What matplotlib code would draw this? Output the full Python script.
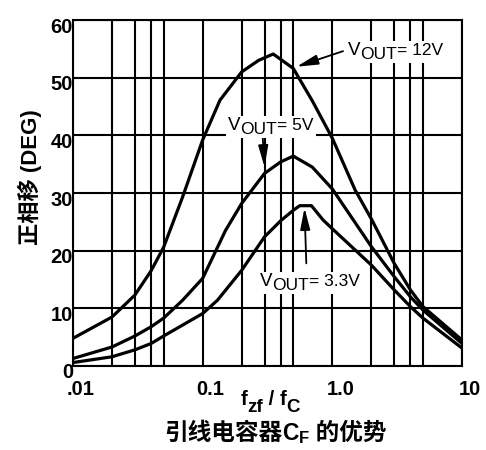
import matplotlib
matplotlib.use("Agg")
import matplotlib.pyplot as plt
from matplotlib.ticker import NullFormatter
from matplotlib.transforms import ScaledTranslation, offset_copy, Bbox, IdentityTransform
from matplotlib.patches import Rectangle

plt.rcParams["font.family"] = ["Liberation Sans", "Noto Sans CJK SC", "DejaVu Sans"]

# ratio f_zf / f_c and phase boost (deg)
freq_12v = [0.01, 0.02, 0.03, 0.04, 0.05, 0.07, 0.1, 0.136, 0.2, 0.27, 0.35,
            0.5, 0.7, 1.0, 1.5, 2, 3, 4, 5, 10]
phase_12v = [4.8, 8.5, 12.3, 16.5, 20.6, 29.3, 39.2, 46.1, 51.0, 53.0, 54.1,
             51.6, 46.0, 39.5, 30.5, 25.5, 17.8, 13.2, 10.3, 4.5]

freq_5v = [0.01, 0.02, 0.03, 0.04, 0.05, 0.07, 0.1, 0.15, 0.2, 0.3, 0.4,
           0.5, 0.7, 1.0, 2, 3, 4, 5, 10]
phase_5v = [1.3, 3.3, 5.2, 6.8, 8.3, 11.4, 15.2, 23.5, 28.2, 33.4, 35.4,
            36.4, 34.5, 30.7, 20.7, 15.5, 12.0, 9.7, 3.9]

freq_3v3 = [0.01, 0.02, 0.03, 0.04, 0.05, 0.1, 0.13, 0.2, 0.3, 0.4, 0.5,
            0.56, 0.69, 0.85, 1.0, 2, 3, 4, 5, 10]
phase_3v3 = [0.6, 1.6, 2.8, 3.9, 5.2, 9.1, 11.4, 16.6, 22.4, 25.2, 27.0,
             27.8, 27.8, 25.3, 23.8, 17.5, 13.2, 10.3, 8.3, 3.1]

x_major = [0.01, 0.1, 1, 10]
x_major_labels = [".01", "0.1", "1.0", "10"]
x_minor = [0.02, 0.03, 0.04, 0.05, 0.2, 0.3, 0.4, 0.5, 2, 3, 4, 5]
y_ticks = [0, 10, 20, 30, 40, 50, 60]

fig = plt.figure(figsize=(4.86, 4.5), dpi=100)
ax = fig.add_axes([73 / 486, 1 - 366 / 450, 389 / 486, 346 / 450])
renderer = fig.canvas.get_renderer()


def runs_text(x, y, runs, trans, weight="normal", center=False, box=False):
    # draw pieces (text, size, dy in px) one after another on a common baseline
    made = []
    widths = []
    for s, size, dy in runs:
        t = fig.text(0, 0, s, fontsize=size, fontweight=weight,
                     ha="left", va="baseline", zorder=3)
        widths.append(t.get_window_extent(renderer).width)
        made.append((t, dy))
    start = -sum(widths) / 2 if center else 0
    for (t, dy), w in zip(made, widths):
        t.set_position((x, y))
        t.set_transform(offset_copy(trans, fig=fig, x=start, y=dy, units="dots"))
        start += w
    if box:
        bb = Bbox.union([t.get_window_extent(renderer) for t, _ in made])
        fig.add_artist(Rectangle((bb.x0 - 2, bb.y0 - 1), bb.width + 4, bb.height + 2,
                                 facecolor="white", edgecolor="none",
                                 transform=IdentityTransform(), zorder=2))


ax.plot(freq_12v, phase_12v, color="black", lw=2.3, zorder=3)
ax.plot(freq_5v, phase_5v, color="black", lw=2.3, zorder=3)
ax.plot(freq_3v3, phase_3v3, color="black", lw=2.3, zorder=3)

ax.set_xscale("log")
ax.set_xlim(0.01, 10)
ax.set_ylim(0, 60)
ax.set_xticks(x_major)
ax.set_xticklabels(x_major_labels)
ax.set_xticks(x_minor, minor=True)
ax.xaxis.set_minor_formatter(NullFormatter())
ax.set_yticks(y_ticks)
ax.tick_params(which="both", length=0)
ax.tick_params(axis="x", pad=10, labelsize=14.5)
ax.tick_params(axis="y", pad=0, labelsize=14.5)
for lab in ax.get_xticklabels() + ax.get_yticklabels():
    lab.set_fontweight("bold")
for lab in ax.get_xticklabels():
    lab.set_transform(lab.get_transform() + ScaledTranslation(0.08, 0, fig.dpi_scale_trans))
for lab in ax.get_yticklabels():
    lab.set_transform(lab.get_transform() + ScaledTranslation(0, -0.05, fig.dpi_scale_trans))

ax.grid(True, which="both", color="black", lw=1.5, zorder=1)
ax.set_axisbelow(True)
for sp in ax.spines.values():
    sp.set_linewidth(1.5)

# V_OUT labels with white boxes and arrows
arrow = dict(arrowstyle="-|>,head_length=1.3,head_width=0.3", color="black", lw=1.3,
             shrinkA=0, shrinkB=0)
runs_text(1.32, 53.9, [("V", 13.5, 0), ("OUT", 12.5, -4), ("= 12V", 12.5, 0)],
          ax.transData, box=True)
ax.annotate("", xy=(0.53, 51.9), xytext=(1.21, 54.6), arrowprops=arrow, zorder=4)

runs_text(0.157, 40.9, [("V", 13.5, 0), ("OUT", 12.5, -4), ("= 5V", 12.5, 0)],
          ax.transData, box=True)
ax.annotate("", xy=(0.30, 34.5), xytext=(0.29, 40.0), arrowprops=arrow, zorder=4)

runs_text(0.277, 13.9, [("V", 13.5, 0), ("OUT", 12.5, -4), ("= 3.3V", 12.5, 0)],
          ax.transData, box=True)
ax.annotate("", xy=(0.61, 27.4), xytext=(0.63, 17.8), arrowprops=arrow, zorder=4)

# axis titles
fig.text(30 / 486, 1 - 177 / 450, "正相移 (DEG)", rotation=90, ha="center",
         va="center", fontsize=16, fontweight="bold")
runs_text(270 / 486, 1 - 405 / 450,
          [("f", 14.5, 0), ("zf", 13.5, -7), (" / ", 14.5, 0), ("f", 14.5, 0), ("C", 13.5, -7)],
          fig.transFigure, weight="bold", center=True)
runs_text(275 / 486, 1 - 440 / 450,
          [("引线电容器", 17, 0), ("C", 16.5, 0), ("F", 12, -3), (" 的优势", 17, 0)],
          fig.transFigure, weight="bold", center=True)

fig.savefig("out.png", dpi=100)
